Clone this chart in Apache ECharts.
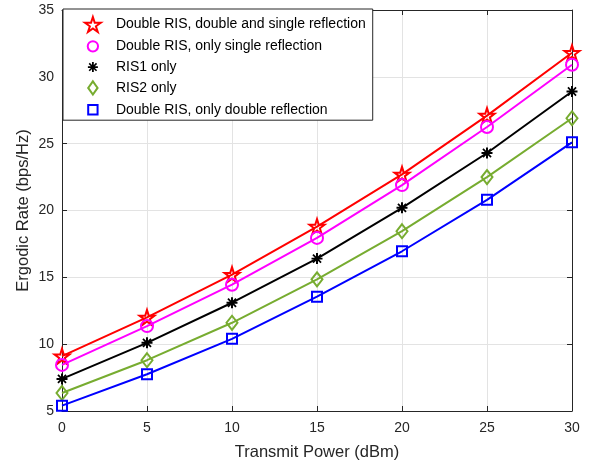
<!DOCTYPE html>
<html><head><meta charset="utf-8">
<script src="https://cdn.jsdelivr.net/npm/echarts@6/dist/echarts.min.js"></script>
<style>html,body{margin:0;padding:0;background:#fff}#c{width:594px;height:463px}</style>
</head><body><div id="c"></div>
<script>
const power = [0, 5, 10, 15, 20, 25, 30];
const doubleAndSingle = [9.1, 12.0, 15.2, 18.8, 22.7, 27.1, 31.8];
const singleOnly = [8.45, 11.35, 14.45, 17.95, 21.9, 26.25, 30.9];
const ris1Only = [7.4, 10.1, 13.1, 16.4, 20.2, 24.3, 28.9];
const ris2Only = [6.35, 8.8, 11.6, 14.85, 18.45, 22.5, 26.9];
const doubleOnly = [5.4, 7.75, 10.4, 13.55, 16.95, 20.8, 25.1];
const seriesNames = [
  'Double RIS, double and single reflection',
  'Double RIS, only single reflection',
  'RIS1 only',
  'RIS2 only',
  'Double RIS, only double reflection'
];
const xAxisTitle = 'Transmit Power (dBm)';
const yAxisTitle = 'Ergodic Rate (bps/Hz)';

// marker shapes
function starPath() {
  let s = '';
  for (let i = 0; i < 10; i++) {
    const r = (i % 2) ? 3.82 : 10;
    const a = -Math.PI / 2 + i * Math.PI / 5;
    s += (i ? 'L' : 'M') + (10 + r * Math.cos(a)).toFixed(2) + ',' + (10 + r * Math.sin(a)).toFixed(2);
  }
  return 'path://' + s + 'Z';
}
const asteriskBody = 'M0,4.1L10,4.1L10,5.9L0,5.9Z M4.1,0L5.9,0L5.9,10L4.1,10Z ' +
  'M1.89,0.76L9.24,8.11L8.11,9.24L0.76,1.89Z M8.11,0.76L9.24,1.89L1.89,9.24L0.76,8.11Z';
const starSym = starPath();
const asteriskSym = 'path://' + asteriskBody;
function padded(body, half, full) {
  const o = (full - 2 * half) / 2;
  return 'path://' + body + ' M' + (-o) + ',' + (-o) + ' M' + (2 * half + o) + ',' + (2 * half + o);
}
const circleBody = 'M0,5.5A5.5,5.5 0 1 1 11,5.5A5.5,5.5 0 1 1 0,5.5Z';
const diamondBody = 'M5,0L10,7L5,14L0,7Z';
const squareBody = 'M0,0L10,0L10,10L0,10Z';
const legendIcons = [
  starSym,
  padded(circleBody, 5.5, 16),
  'path://' + asteriskBody + ' M-2.5,-2.5 M12.5,12.5',
  'path://' + diamondBody + ' M-1,-1 M11,15',
  padded(squareBody, 5, 16)
];

const dataSets = [doubleAndSingle, singleOnly, ris1Only, ris2Only, doubleOnly];
const colors = ['#ff0000', '#ff00ff', '#000000', '#77ac30', '#0000ff'];
const symbols = [starSym, 'circle', asteriskSym, 'diamond', 'rect'];
const sizes = [15, 12, 11, [11, 14], 10];
const fills = ['transparent', 'transparent', '#000000', 'transparent', 'transparent'];
const borderW = [2, 2, 0, 2, 2];

const axisColor = '#262626';
const font = 'Liberation Sans, Arial, Helvetica, sans-serif';

const series = dataSets.map((d, i) => ({
  name: seriesNames[i],
  type: 'line',
  data: power.map((x, j) => [x, d[j]]),
  symbol: symbols[i],
  symbolSize: sizes[i],
  showAllSymbol: true,
  lineStyle: { color: colors[i], width: 2 },
  itemStyle: { color: fills[i], borderColor: colors[i], borderWidth: borderW[i] },
  emphasis: { disabled: true },
  z: 2 + i
}));

const chart = echarts.init(document.getElementById('c'), null, { renderer: 'canvas' });
chart.setOption({
  animation: false,
  backgroundColor: '#ffffff',
  textStyle: { fontFamily: font },
  grid: { left: 62, right: 22, top: 10, bottom: 52, containLabel: false, outerBoundsMode: 'none' },
  legend: {
    orient: 'vertical',
    left: 63, top: 9,
    padding: [7, 7, 2, 21],
    itemGap: 4.8,
    itemWidth: 36, itemHeight: 15,
    backgroundColor: '#ffffff',
    borderColor: axisColor, borderWidth: 1, borderRadius: 0,
    textStyle: { fontSize: 14, lineHeight: 15, color: '#000', fontFamily: font },
    selectedMode: false,
    data: seriesNames.map((n, i) => ({
      name: n,
      icon: legendIcons[i],
      itemStyle: { color: fills[i], borderColor: colors[i], borderWidth: borderW[i] }
    }))
  },
  xAxis: [{
    type: 'value', min: 0, max: 30, interval: 5,
    name: xAxisTitle, nameLocation: 'middle', nameGap: 33, nameMoveOverlap: false,
    nameTextStyle: { fontSize: 16.5, color: axisColor, fontFamily: font },
    axisLine: { show: true, onZero: false, lineStyle: { color: axisColor, width: 1 } },
    axisTick: { show: true, inside: true, length: 5, lineStyle: { color: axisColor } },
    axisLabel: { fontSize: 14, color: axisColor, margin: 10, fontFamily: font },
    splitLine: { show: true, lineStyle: { color: '#e3e3e3', width: 1 } }
  }, {
    type: 'value', min: 0, max: 30, interval: 5, position: 'top',
    axisLine: { show: true, onZero: false, lineStyle: { color: axisColor, width: 1 } },
    axisTick: { show: true, inside: true, length: 5, lineStyle: { color: axisColor } },
    axisLabel: { show: false }, splitLine: { show: false }
  }],
  yAxis: [{
    type: 'value', min: 5, max: 35, interval: 5,
    name: yAxisTitle, nameLocation: 'middle', nameGap: 30, nameMoveOverlap: false,
    nameTextStyle: { fontSize: 16.5, color: axisColor, fontFamily: font },
    axisLine: { show: true, onZero: false, lineStyle: { color: axisColor, width: 1 } },
    axisTick: { show: true, inside: true, length: 5, lineStyle: { color: axisColor } },
    axisLabel: { fontSize: 14, color: axisColor, margin: 8, fontFamily: font },
    splitLine: { show: true, lineStyle: { color: '#e3e3e3', width: 1 } }
  }, {
    type: 'value', min: 5, max: 35, interval: 5, position: 'right',
    axisLine: { show: true, onZero: false, lineStyle: { color: axisColor, width: 1 } },
    axisTick: { show: true, inside: true, length: 5, lineStyle: { color: axisColor } },
    axisLabel: { show: false }, splitLine: { show: false }
  }],
  series: series
});
</script>
</body></html>
